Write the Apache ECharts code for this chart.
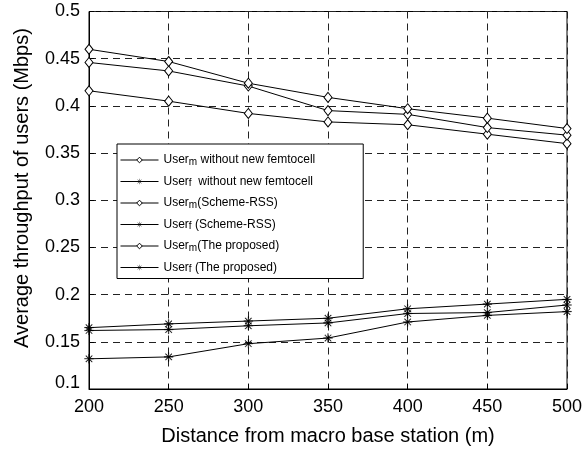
<!DOCTYPE html>
<html>
<head>
<meta charset="utf-8">
<script src="https://cdn.jsdelivr.net/npm/echarts@6/dist/echarts.min.js"></script>
<style>
html,body{margin:0;padding:0;background:#fff;}
#chart{width:587px;height:451px;}
</style>
</head>
<body>
<div id="chart"></div>
<script>
// ---- data ----
const distances = [200, 250, 300, 350, 400, 450, 500];
const yTicks = [0.1, 0.15, 0.2, 0.25, 0.3, 0.35, 0.4, 0.45, 0.5];

const userMWithout  = [0.416, 0.405, 0.392, 0.383, 0.380, 0.370, 0.360];
const userFWithout  = [0.132, 0.134, 0.148, 0.154, 0.171, 0.178, 0.182];
const userMRSS      = [0.446, 0.437, 0.421, 0.395, 0.391, 0.377, 0.369];
const userFRSS      = [0.162, 0.163, 0.167, 0.170, 0.180, 0.181, 0.189];
const userMProposed = [0.460, 0.447, 0.424, 0.409, 0.397, 0.387, 0.376];
const userFProposed = [0.165, 0.169, 0.172, 0.175, 0.185, 0.190, 0.195];

const seriesNames = ['mWithout', 'fWithout', 'mRSS', 'fRSS', 'mProp', 'fProp'];
const legendLabels = {
  'mWithout': '{t|User}{s|m}{t| without new femtocell}',
  'fWithout': '{t|User}{s|f}{t|  without new femtocell}',
  'mRSS': '{t|User}{s|m}{t|(Scheme-RSS)}',
  'fRSS': '{t|User}{s|f}{t| (Scheme-RSS)}',
  'mProp': '{t|User}{s|m}{t|(The proposed)}',
  'fProp': '{t|User}{s|f}{t| (The proposed)}'
};

const FONT = 'Liberation Sans, Arial, Helvetica, sans-serif';
const w = 0.07, d = 0.05;
const starPath = 'path://' +
  'M-' + w + ',-1L' + w + ',-1L' + w + ',1L-' + w + ',1Z ' +
  'M-1,-' + w + 'L1,-' + w + 'L1,' + w + 'L-1,' + w + 'Z ' +
  'M' + (-0.7 + d) + ',' + (-0.7 - d) + 'L' + (0.7 + d) + ',' + (0.7 - d) + 'L' + (0.7 - d) + ',' + (0.7 + d) + 'L' + (-0.7 - d) + ',' + (-0.7 + d) + 'Z ' +
  'M' + (-0.7 - d) + ',' + (0.7 - d) + 'L' + (0.7 - d) + ',' + (-0.7 - d) + 'L' + (0.7 + d) + ',' + (-0.7 + d) + 'L' + (-0.7 + d) + ',' + (0.7 + d) + 'Z';

function mk(name, values, isM) {
  return {
    name: name,
    type: 'line',
    data: distances.map((x, i) => [x, values[i]]),
    symbol: isM ? 'diamond' : starPath,
    symbolSize: isM ? [8, 10] : 9,
    showSymbol: true,
    lineStyle: { color: '#000', width: 1 },
    itemStyle: isM ? { color: '#fff', borderColor: '#000', borderWidth: 1 }
                   : { color: '#000', borderColor: '#000', borderWidth: 0.3 },
    emphasis: { disabled: true },
    animation: false
  };
}

const chart = echarts.init(document.getElementById('chart'), null, { renderer: 'canvas' });
chart.setOption({
  backgroundColor: '#fff',
  animation: false,
  grid: { left: 89, right: 20, top: 11.5, bottom: 60.5, show: true, borderColor: '#000', borderWidth: 1, backgroundColor: 'transparent' },
  xAxis: {
    type: 'value', min: 200, max: 500, interval: 50,
    axisLine: { show: true, lineStyle: { color: '#000', width: 1 } },
    axisTick: { show: true, inside: true, length: 5, lineStyle: { color: '#000' } },
    axisLabel: { color: '#000', fontSize: 18, fontFamily: FONT, margin: 9 },
    splitLine: { show: true, lineStyle: { color: '#222', type: [7, 5], width: 1 } },
    name: 'Distance from macro base station (m)',
    nameLocation: 'middle', nameGap: 37,
    nameTextStyle: { color: '#000', fontSize: 20, fontFamily: FONT }
  },
  yAxis: {
    type: 'value', min: 0.1, max: 0.5, interval: 0.05,
    axisLine: { show: true, lineStyle: { color: '#000', width: 1 } },
    axisTick: { show: true, inside: true, length: 5, lineStyle: { color: '#000' } },
    axisLabel: {
      color: '#000', fontSize: 18, fontFamily: FONT, margin: 9,
      formatter: function (v) {
        const s = String(Math.round(v * 100) / 100);
        return Math.abs(v - yTicks[0]) < 1e-9 ? '{lo|' + s + '}' : s;
      },
      rich: { lo: { fontSize: 18, fontFamily: FONT, color: '#000', padding: [0, 0, 12, 0] } }
    },
    splitLine: { show: true, lineStyle: { color: '#222', type: [7, 5], width: 1 } }
  },
  legend: {
    orient: 'vertical', left: 117, top: 144,
    padding: [4, 48, 4, 3],
    itemGap: 2.5, itemWidth: 38, itemHeight: 7,
    borderColor: '#000', borderWidth: 1, backgroundColor: '#fff',
    selectedMode: false,
    lineStyle: { width: 1, color: '#000' },
    data: seriesNames.map(function (n) {
      const isM = n.charAt(0) === 'm';
      return {
        name: n,
        itemStyle: isM ? { color: '#fff', borderColor: '#000', borderWidth: 1 }
                       : { color: '#000', borderColor: '#000', borderWidth: 0 }
      };
    }),
    formatter: function (n) { return legendLabels[n]; },
    textStyle: {
      color: '#000', fontFamily: FONT, fontSize: 12,
      rich: {
        t: { fontSize: 12, fontFamily: FONT, color: '#000', lineHeight: 14, verticalAlign: 'middle' },
        s: { fontSize: 10, fontFamily: FONT, color: '#000', lineHeight: 10, padding: [9, 0, 0, 0], verticalAlign: 'bottom' }
      }
    }
  },
  graphic: [{
    type: 'text', x: 22, y: 188, rotation: Math.PI / 2,
    style: { text: 'Average throughput of users (Mbps)', fill: '#000', font: '20px ' + FONT, textAlign: 'center', textVerticalAlign: 'middle' }
  }],
  series: [
    mk('mWithout', userMWithout, true),
    mk('fWithout', userFWithout, false),
    mk('mRSS', userMRSS, true),
    mk('fRSS', userFRSS, false),
    mk('mProp', userMProposed, true),
    mk('fProp', userFProposed, false)
  ]
});
</script>
</body>
</html>
